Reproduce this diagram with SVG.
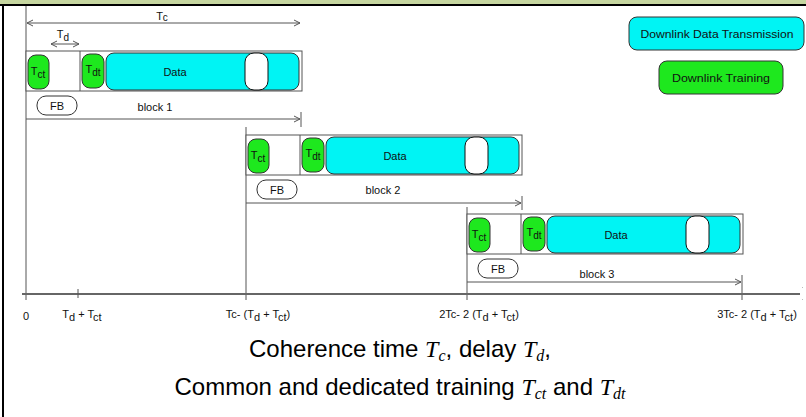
<svg xmlns="http://www.w3.org/2000/svg" width="806" height="417" viewBox="0 0 806 417">
<style>
.t{font-family:"Liberation Sans",Arial,sans-serif;fill:#111;font-size:11px;text-anchor:middle}
.ln{stroke:#555;stroke-width:1;fill:none}
.blk{fill:#fff;stroke:#555;stroke-width:1}
.grn{fill:#1ee81e;stroke:#333;stroke-width:1}
.cyn{fill:#00f4f4;stroke:#333;stroke-width:1}
.wht{fill:#fff;stroke:#111;stroke-width:1}
.fb{fill:#fff;stroke:#333;stroke-width:1}
.cap{font-family:"Liberation Sans",Arial,sans-serif;font-size:24px;fill:#000;text-anchor:middle}
.m{font-family:"Liberation Serif","Times New Roman",serif;font-style:italic}
</style>
<defs>
<marker id="ah" markerWidth="8" markerHeight="8" refX="7" refY="4" orient="auto-start-reverse" markerUnits="userSpaceOnUse">
<path d="M1,1 L7,4 L1,7" fill="none" stroke="#555" stroke-width="1"/>
</marker>
</defs>
<rect x="0" y="0" width="806" height="417" fill="#fff"/>
<rect x="0" y="0" width="806" height="5" fill="#c6d6a0"/>
<line x1="0" y1="5" x2="806" y2="5" stroke="#000" stroke-width="2"/>
<line x1="3" y1="5" x2="3" y2="417" stroke="#000" stroke-width="2"/>

<g id="connectors">
<line class="ln" x1="26" y1="6" x2="26" y2="300"/>
<line class="ln" x1="246" y1="127" x2="246" y2="300"/>
<line class="ln" x1="467" y1="207" x2="467" y2="300"/>
<line class="ln" x1="27" y1="23" x2="300" y2="23" marker-start="url(#ah)" marker-end="url(#ah)"/>
<line class="ln" x1="51" y1="44" x2="79" y2="44" marker-start="url(#ah)" marker-end="url(#ah)"/>
<line class="ln" x1="26" y1="119" x2="300" y2="119" marker-end="url(#ah)"/>
<line class="ln" x1="301" y1="112" x2="301" y2="127"/>
<line class="ln" x1="246" y1="203" x2="521" y2="203" marker-end="url(#ah)"/>
<line class="ln" x1="522" y1="196" x2="522" y2="210"/>
<line class="ln" x1="467" y1="282" x2="741" y2="282" marker-end="url(#ah)"/>
<line class="ln" x1="742" y1="275" x2="742" y2="300"/>
<line x1="22" y1="294" x2="800" y2="294" stroke="#666" stroke-width="2"/>
<line class="ln" x1="78" y1="289" x2="78" y2="298"/>
<line x1="802" y1="287" x2="803" y2="288" stroke="#bbb" stroke-width="1"/>
<line x1="802" y1="300" x2="803" y2="299" stroke="#bbb" stroke-width="1"/>
</g>

<text class="t" x="162" y="20" font-size="12">T<tspan font-size="10" dy="1">c</tspan></text>
<text class="t" x="63" y="38" font-size="12">T<tspan font-size="10" dy="3">d</tspan></text>

<g id="block1">
<rect class="blk" x="26" y="51" width="276" height="40"/>
<line class="ln" x1="80" y1="51" x2="80" y2="91"/>
<g id="tct1"><rect class="grn" x="28" y="55" width="21" height="34" rx="8"/><text class="t" x="38" y="75" font-size="12">T<tspan font-size="10" dy="3">ct</tspan></text></g>
<g id="tdt1"><rect class="grn" x="82" y="54" width="22" height="34" rx="8"/><text class="t" x="93" y="73" font-size="12">T<tspan font-size="10" dy="3">dt</tspan></text></g>
<g id="data1"><rect class="cyn" x="106" y="53" width="193" height="37" rx="8"/><rect class="wht" x="245" y="53" width="23" height="37" rx="9"/><text class="t" x="175" y="76">Data</text></g>
<g id="fb1"><rect class="fb" x="37" y="96" width="40" height="19" rx="9"/><text class="t" x="57" y="110">FB</text></g>
<text class="t" x="155" y="111">block 1</text>
</g>

<g id="block2" transform="translate(220,84)">
<rect class="blk" x="26" y="51" width="276" height="40"/>
<line class="ln" x1="80" y1="51" x2="80" y2="91"/>
<g id="tct2"><rect class="grn" x="28" y="55" width="21" height="34" rx="8"/><text class="t" x="38" y="75" font-size="12">T<tspan font-size="10" dy="3">ct</tspan></text></g>
<g id="tdt2"><rect class="grn" x="82" y="54" width="22" height="34" rx="8"/><text class="t" x="93" y="73" font-size="12">T<tspan font-size="10" dy="3">dt</tspan></text></g>
<g id="data2"><rect class="cyn" x="106" y="53" width="193" height="37" rx="8"/><rect class="wht" x="245" y="53" width="23" height="37" rx="9"/><text class="t" x="175" y="76">Data</text></g>
<g id="fb2"><rect class="fb" x="37" y="96" width="40" height="19" rx="9"/><text class="t" x="57" y="110">FB</text></g>
<text class="t" x="163" y="110">block 2</text>
</g>

<g id="block3" transform="translate(441,163)">
<rect class="blk" x="26" y="51" width="276" height="40"/>
<line class="ln" x1="80" y1="51" x2="80" y2="91"/>
<g id="tct3"><rect class="grn" x="28" y="55" width="21" height="34" rx="8"/><text class="t" x="38" y="75" font-size="12">T<tspan font-size="10" dy="3">ct</tspan></text></g>
<g id="tdt3"><rect class="grn" x="82" y="54" width="22" height="34" rx="8"/><text class="t" x="93" y="73" font-size="12">T<tspan font-size="10" dy="3">dt</tspan></text></g>
<g id="data3"><rect class="cyn" x="106" y="53" width="193" height="37" rx="8"/><rect class="wht" x="245" y="53" width="23" height="37" rx="9"/><text class="t" x="175" y="76">Data</text></g>
<g id="fb3"><rect class="fb" x="37" y="96" width="40" height="19" rx="9"/><text class="t" x="57" y="110">FB</text></g>
<text class="t" x="156" y="115">block 3</text>
</g>

<g id="legend-data"><rect class="cyn" x="629" y="17" width="175" height="33" rx="8"/><text class="t" x="717" y="38" font-size="13" textLength="153" lengthAdjust="spacingAndGlyphs">Downlink Data Transmission</text></g>
<g id="legend-training"><rect class="grn" x="659" y="61" width="124" height="33" rx="8"/><text class="t" x="721" y="82" font-size="13" textLength="98" lengthAdjust="spacingAndGlyphs">Downlink Training</text></g>

<g id="axis-labels">
<text class="t" x="26" y="320" font-size="10">0</text>
<text class="t" x="82" y="318" font-size="10">T<tspan dy="3">d</tspan><tspan dy="-3"> + T</tspan><tspan dy="3">ct</tspan></text>
<text class="t" x="258" y="318" font-size="10">T<tspan>c</tspan>- (T<tspan dy="3">d</tspan><tspan dy="-3"> + T</tspan><tspan dy="3">ct</tspan><tspan dy="-3">)</tspan></text>
<text class="t" x="479" y="318" font-size="10">2T<tspan>c</tspan>- 2 (T<tspan dy="3">d</tspan><tspan dy="-3"> + T</tspan><tspan dy="3">ct</tspan><tspan dy="-3">)</tspan></text>
<text class="t" x="757" y="318" font-size="10">3T<tspan>c</tspan>- 2 (T<tspan dy="3">d</tspan><tspan dy="-3"> + T</tspan><tspan dy="3">ct</tspan><tspan dy="-3">)</tspan></text>
</g>

<g id="caption">
<text class="cap" x="400" y="357">Coherence time <tspan class="m">T</tspan><tspan class="m" font-size="16" dy="4">c</tspan><tspan dy="-4">, delay </tspan><tspan class="m">T</tspan><tspan class="m" font-size="16" dy="4">d</tspan><tspan dy="-4">,</tspan></text>
<text class="cap" x="400" y="395">Common and dedicated training <tspan class="m">T</tspan><tspan class="m" font-size="16" dy="4">ct</tspan><tspan dy="-4"> and </tspan><tspan class="m">T</tspan><tspan class="m" font-size="16" dy="4">dt</tspan></text>
</g>
</svg>
